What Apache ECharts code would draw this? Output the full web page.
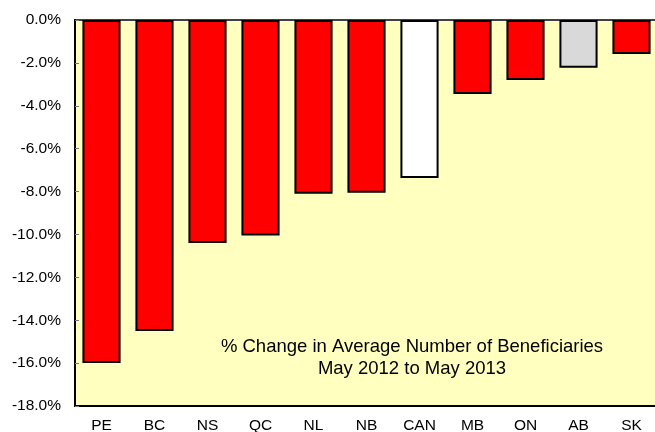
<!DOCTYPE html>
<html>
<head>
<meta charset="utf-8">
<script src="https://cdn.jsdelivr.net/npm/echarts@6/dist/echarts.min.js"></script>
<style>
  html, body { margin: 0; padding: 0; background: #fff; }
  #chart { width: 655px; height: 432px; }
</style>
</head>
<body>
<div id="chart"></div>
<script>
// data
const provinces = ['PE', 'BC', 'NS', 'QC', 'NL', 'NB', 'CAN', 'MB', 'ON', 'AB', 'SK']
const pctChange = [-16.0, -14.5, -10.4, -10.05, -8.1, -8.05, -7.37, -3.45, -2.8, -2.23, -1.58]
const barColors = ['#ff0000', '#ff0000', '#ff0000', '#ff0000', '#ff0000', '#ff0000', '#ffffff', '#ff0000', '#ff0000', '#d9d9d9', '#ff0000']
const chartTitle = ['% Change in Average Number of Beneficiaries', 'May 2012 to May 2013']

const chart = echarts.init(document.getElementById('chart'))
const font = 'Liberation Sans, Arial, sans-serif'

chart.setOption({
  animation: false,
  backgroundColor: '#ffffff',
  title: {
    text: chartTitle.join('\n'),
    left: 407,
    top: 331,
    textAlign: 'center',
    textStyle: {
      fontFamily: font,
      fontSize: 18.5,
      fontWeight: 'normal',
      color: '#000',
      lineHeight: 22,
    },
  },
  grid: {
    left: 75,
    top: 20,
    width: 583,
    height: 386,
    outerBoundsMode: 'none',
    show: true,
    backgroundColor: '#ffffc0',
    borderColor: '#404040',
    borderWidth: 2,
  },
  xAxis: {
    type: 'category',
    data: provinces,
    position: 'bottom',
    axisLine: { onZero: false, lineStyle: { color: '#000', width: 2 } },
    axisTick: { show: false },
    axisLabel: { fontFamily: font, fontSize: 15.5, color: '#000', margin: 12 },
  },
  yAxis: {
    type: 'value',
    min: -18,
    max: 0,
    interval: 2,
    axisLine: { show: true, lineStyle: { color: '#000', width: 2 } },
    axisTick: { show: true, inside: true, length: 4, lineStyle: { color: '#777' } },
    splitLine: { show: false },
    axisLabel: {
      fontFamily: font,
      fontSize: 15.5,
      color: '#000',
      margin: 14,
      formatter: (v) => v.toFixed(1) + '%',
    },
  },
  series: [
    {
      type: 'bar',
      barCategoryGap: '28%',
      data: pctChange.map((v, i) => ({
        value: v,
        itemStyle: { color: barColors[i], borderColor: '#000', borderWidth: 2 },
      })),
    },
  ],
})
</script>
</body>
</html>
